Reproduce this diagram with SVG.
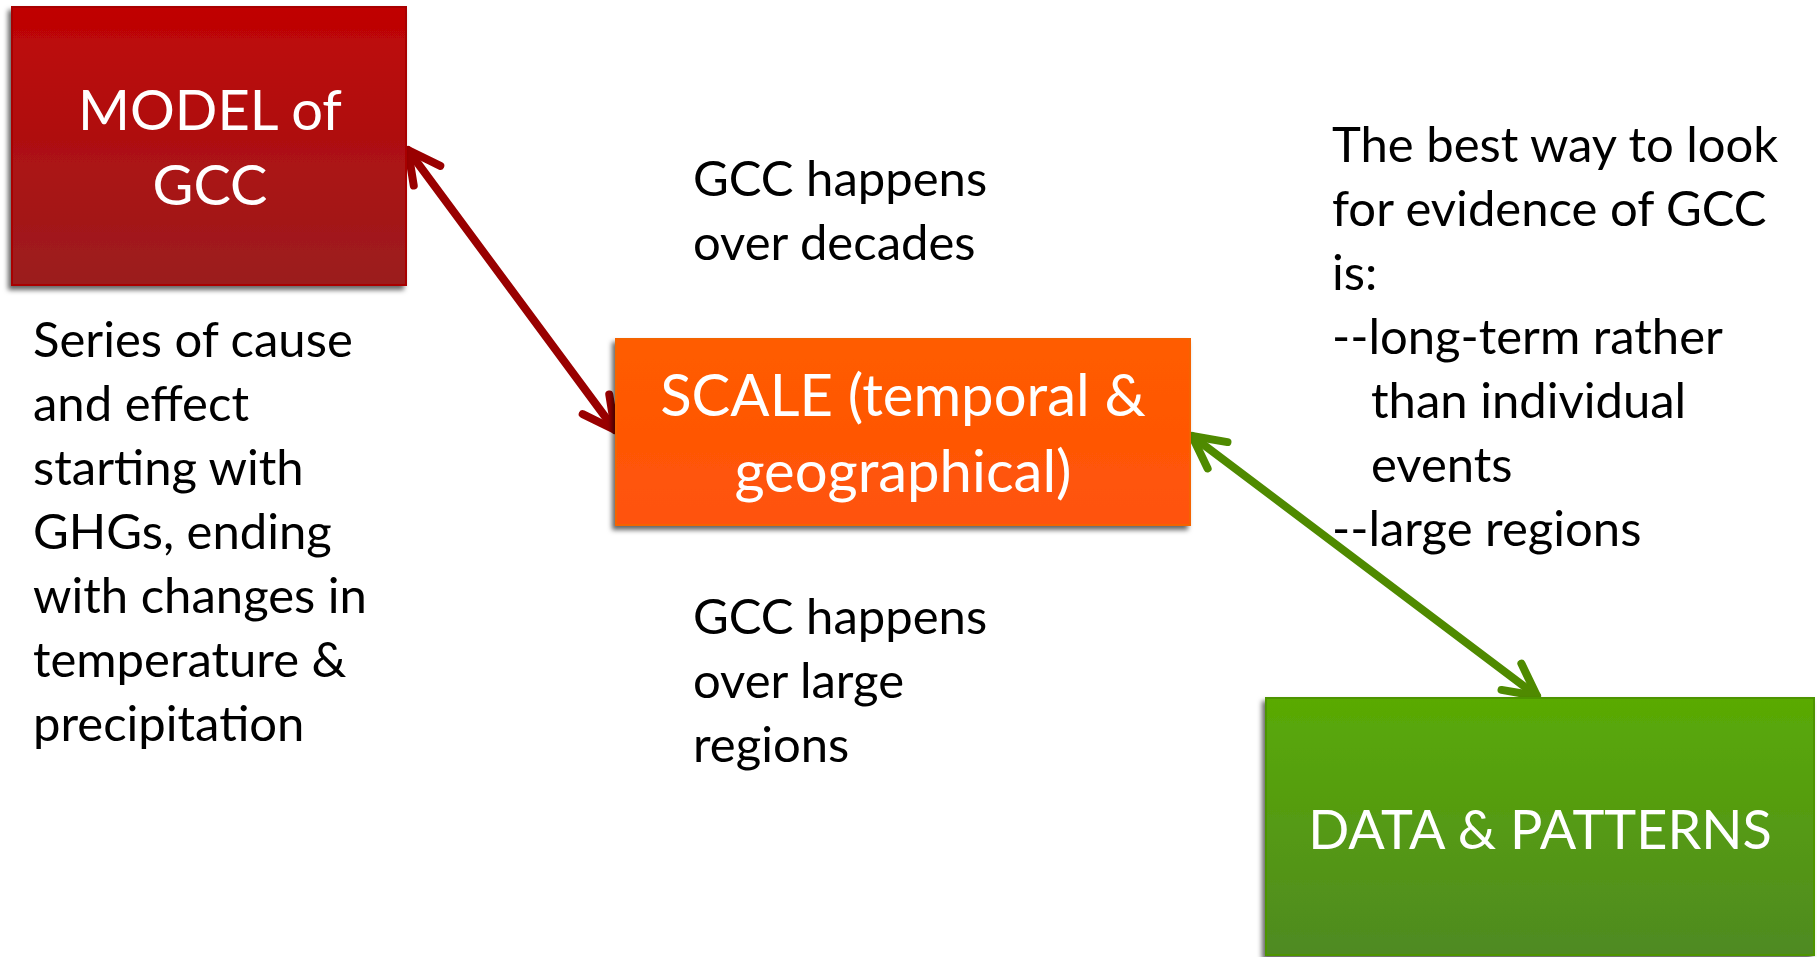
<svg xmlns="http://www.w3.org/2000/svg" width="1817" height="957" viewBox="0 0 1817 957">
<style>
.box-text{font-family:Lato,"Liberation Sans",sans-serif;font-size:56px;fill:#ffffff;text-anchor:middle}
.scale-text{font-size:58px}
.data-text{font-size:54px}
.note{font-family:Lato,"Liberation Sans",sans-serif;font-size:49px;fill:#000000}
.red-line{stroke:#990000;stroke-width:8;fill:none;stroke-linecap:round}
.green-line{stroke:#4F8A00;stroke-width:8;fill:none;stroke-linecap:round}
</style>
<defs>
<linearGradient id="gRed" x1="0" y1="0" x2="0" y2="1"><stop offset="0" stop-color="#C00404"/><stop offset="1" stop-color="#9B1D1F"/></linearGradient>
<linearGradient id="gOrange" x1="0" y1="0" x2="0" y2="1"><stop offset="0" stop-color="#FF5C00"/><stop offset="1" stop-color="#FF520A"/></linearGradient>
<linearGradient id="gGreen" x1="0" y1="0" x2="0" y2="1"><stop offset="0" stop-color="#5AAA04"/><stop offset="1" stop-color="#4F8A22"/></linearGradient>
<filter id="shadow" x="-10%" y="-10%" width="120%" height="125%"><feDropShadow dx="-3" dy="4" stdDeviation="2.5" flood-color="#000" flood-opacity="0.6"/></filter>
<marker id="arrRed" markerUnits="userSpaceOnUse" viewBox="-40 -22 50 44" refX="0" refY="0" markerWidth="50" markerHeight="44" orient="auto-start-reverse"><path d="M -32 -16.5 L 0 0 L -32 16.5" fill="none" stroke="#990000" stroke-width="8" stroke-linecap="round" stroke-linejoin="round"/></marker>
<marker id="arrGreen" markerUnits="userSpaceOnUse" viewBox="-40 -22 50 44" refX="0" refY="0" markerWidth="50" markerHeight="44" orient="auto-start-reverse"><path d="M -32 -16.5 L 0 0 L -32 16.5" fill="none" stroke="#4F8A00" stroke-width="8" stroke-linecap="round" stroke-linejoin="round"/></marker>
</defs>
<rect width="1817" height="957" fill="#ffffff"/>
<g id="connectors">
<line class="red-line" x1="408" y1="150" x2="615" y2="430" marker-start="url(#arrRed)" marker-end="url(#arrRed)"/>
<line class="green-line" x1="1192" y1="436" x2="1537" y2="696" marker-start="url(#arrGreen)" marker-end="url(#arrGreen)"/>
</g>
<g id="model">
<rect x="12" y="7" width="394" height="278" fill="url(#gRed)" stroke="#A80000" stroke-width="2" filter="url(#shadow)"/>
<text class="box-text" x="210" y="130">MODEL of</text>
<text class="box-text" x="210" y="205">GCC</text>
</g>
<g id="scale">
<rect x="616" y="339" width="574" height="186" fill="url(#gOrange)" stroke="#F46400" stroke-width="2" filter="url(#shadow)"/>
<text class="box-text scale-text" x="903" y="416">SCALE (temporal &amp;</text>
<text class="box-text scale-text" x="903" y="492">geographical)</text>
</g>
<g id="data">
<rect x="1266" y="698" width="548" height="257" fill="url(#gGreen)" stroke="#4E9400" stroke-width="2" filter="url(#shadow)"/>
<text class="box-text data-text" x="1540" y="849">DATA &amp; PATTERNS</text>
</g>
<g id="note-model">
<text class="note" x="33" y="357">Series of cause</text>
<text class="note" x="33" y="421">and effect</text>
<text class="note" x="33" y="485">starting with</text>
<text class="note" x="33" y="549">GHGs, ending</text>
<text class="note" x="33" y="613">with changes in</text>
<text class="note" x="33" y="677">temperature &amp;</text>
<text class="note" x="33" y="741">precipitation</text>
</g>
<g id="note-decades">
<text class="note" x="693" y="196">GCC happens</text>
<text class="note" x="693" y="260">over decades</text>
</g>
<g id="note-regions">
<text class="note" x="693" y="634">GCC happens</text>
<text class="note" x="693" y="698">over large</text>
<text class="note" x="693" y="762">regions</text>
</g>
<g id="note-evidence">
<text class="note" x="1332" y="162">The best way to look</text>
<text class="note" x="1332" y="226">for evidence of GCC</text>
<text class="note" x="1332" y="290">is:</text>
<text class="note" x="1332" y="354">--long-term rather</text>
<text class="note" x="1371" y="418">than individual</text>
<text class="note" x="1371" y="482">events</text>
<text class="note" x="1332" y="546">--large regions</text>
</g>
</svg>
